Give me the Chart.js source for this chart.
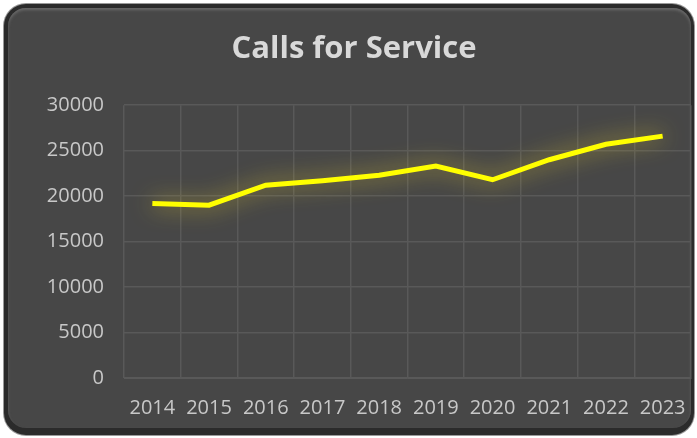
<!DOCTYPE html>
<html>
<head>
<meta charset="utf-8">
<script src="https://cdn.jsdelivr.net/npm/chart.js@4.4.0/dist/chart.umd.min.js"></script>
<style>
  html, body { margin: 0; padding: 0; background: #ffffff; }
  #frame {
    position: absolute; left: 4px; top: 4px; width: 690px; height: 431px;
    border-radius: 22px;
    background: #2b2b2b;
    box-shadow: 0 0 0 1px #9a9a9a;
  }
  #panel {
    position: absolute; left: 4px; top: 4px; width: 683px; height: 420px;
    border-radius: 18px;
    background: #474747;
    box-shadow: inset 0 2px 3px #6a6a6a;
  }
  #wrap { position: absolute; left: 0; top: 0; width: 697px; height: 438px; }
</style>
</head>
<body>
<div id="frame"><div id="panel"></div></div>
<div id="wrap"><canvas id="callsChart"></canvas></div>
<script>

const years = ["2014", "2015", "2016", "2017", "2018", "2019", "2020", "2021", "2022", "2023"];

const calls = [19200, 19000, 21200, 21700, 22300, 23300, 21800, 24000, 25700, 26600];

const yTicks = [0, 5000, 10000, 15000, 20000, 25000, 30000];

const glowPlugin = {
    id: "glow",
    beforeDatasetsDraw(chart) {
        chart.ctx.save();
        chart.ctx.shadowColor = "rgba(255, 225, 40, 0.7)";
        chart.ctx.shadowBlur = 22;
    },
    afterDatasetsDraw(chart) {
        chart.ctx.restore();
    }
};

const ctx = document.getElementById("callsChart");

new Chart(ctx, {
    type: "line",
    data: {
        labels: years,
        datasets: [{
            label: "Calls for Service",
            data: calls,
            borderColor: "#ffff00",
            borderWidth: 5,
            pointRadius: 0,
            tension: 0,
            fill: false
        }]
    },
    options: {
        responsive: true,
        maintainAspectRatio: false,
        animation: false,
        layout: {
            padding: { left: 17, right: 6, top: 31, bottom: 0 }
        },
        plugins: {
            legend: { display: false },
            tooltip: { enabled: false },
            title: {
                display: true,
                text: "Calls for Service",
                color: "#d9d9d9",
                font: { family: "Open Sans", size: 31, weight: "bold" },
                padding: { top: 0, bottom: 37 }
            }
        },
        scales: {
            x: {
                offset: true,
                afterFit(axis) {
                    // labels fit inside the offset, no extra side padding
                    axis.paddingLeft = 0;
                    axis.paddingRight = 0;
                },
                grid: { color: "#595959", lineWidth: 1.5, offset: true, drawTicks: false },
                border: { color: "#595959" },
                ticks: {
                    color: "#c8c8c8",
                    font: { family: "Open Sans", size: 20 },
                    padding: 18,
                    maxRotation: 0,
                    autoSkip: false
                }
            },
            y: {
                min: 0,
                max: 30000,
                afterBuildTicks(axis) {
                    axis.ticks = yTicks.map(v => ({ value: v }));
                },
                afterFit(axis) {
                    axis.width = 107;
                },
                grid: { color: "#595959", lineWidth: 1.5, drawTicks: false },
                border: { display: false },
                ticks: {
                    color: "#c8c8c8",
                    font: { family: "Open Sans", size: 20 },
                    padding: 20,
                    callback: (value) => String(value)
                }
            }
        }
    },
    plugins: [glowPlugin]
});

</script>
</body>
</html>
